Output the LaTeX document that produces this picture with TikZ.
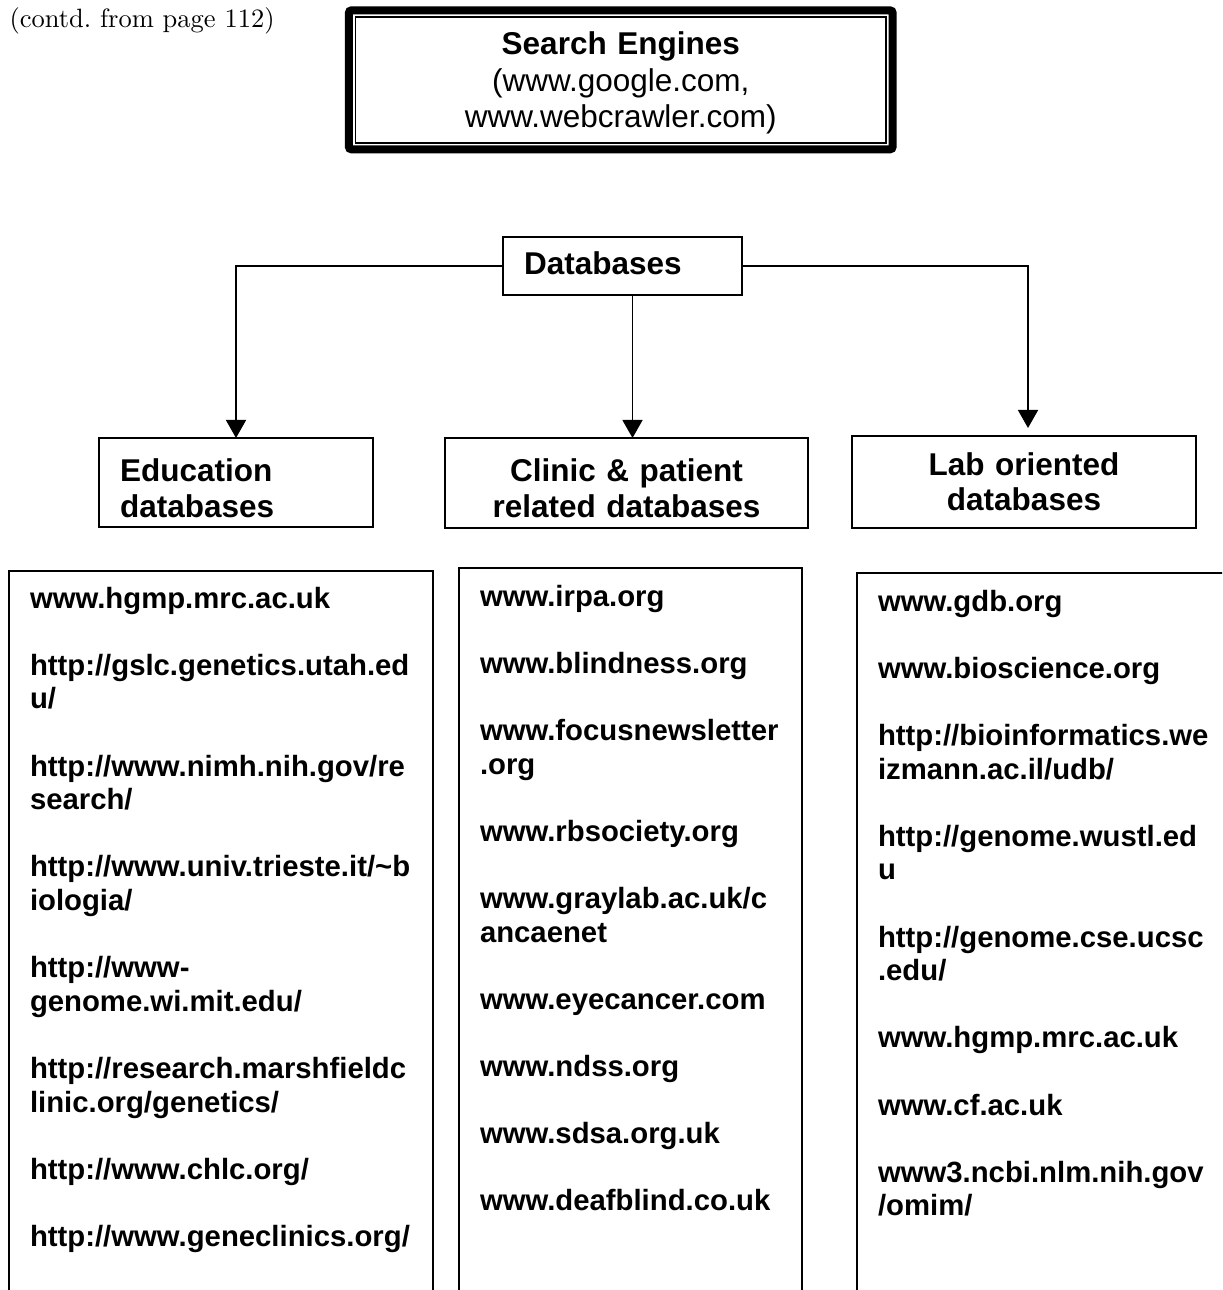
\documentclass[tikz,border=0pt]{standalone}
\usepackage{fontspec}
\newfontfamily\arialfont{Liberation Sans}
\usetikzlibrary{
    arrows.meta,
    positioning
}
\newlength{\px}
\setlength{\px}{0.4pt}
\newcommand{\urlgap}{\\[\baselineskip]}
\tikzset {
    box/.style = {draw, line width = 0.5pt, inner ysep = 0pt, outer sep = 0pt, anchor = base west},
    head/.style = {box, inner xsep = 21\px, font = {\arialfont\bfseries\fontsize{12.6}{14}\selectfont}},
    urls/.style = {
        box, inner xsep = 21\px, align = left,
        font = {\arialfont\bfseries\fontsize{11.72}{13.44}\selectfont\hyphenpenalty=10000\exhyphenpenalty=10000}
    },
    conn/.style = {line width = 0.6pt, -{Triangle[length = 7.2pt, width = 8pt]}}
}
\begin{document}
\begin{tikzpicture}[x = 1\px, y = -1\px]
    \useasboundingbox (0, 0) rectangle (1222, 1290);
    \clip (0, 0) rectangle (1222, 1290);
    \node (contd) [anchor = base west, inner sep = 0pt, font = \fontsize{10.6}{12}\selectfont] at (9, 28) {(contd.\ from page 112)};
    % search engines, framed twice
    \node (search) [box, line width = 0.7pt, inner xsep = 0pt, text width = 530.5\px, align = center,
        text height = 38\px, text depth = 87.7\px, font = {\arialfont\fontsize{12.6}{14.6}\selectfont}]
        at (355.5, 55) {\textbf{Search Engines}\\(www.google.com,\\www.webcrawler.com)};
    \draw [line width = 3.2pt, rounded corners = 1pt] ([shift = {(-6.6, -6.6)}]search.north west) rectangle ([shift = {(6.6, 6.6)}]search.south east);
    % databases and the three kinds
    \node (dbs) [head, text width = 197\px, align = left, text height = 38\px, text depth = 20\px] at (503, 275) {Databases};
    \node (edu) [head, text width = 232\px, align = left, text height = 44\px, text depth = 45\px] at (99, 482) {Education\\databases};
    \node (clinic) [head, text width = 321\px, align = center, text height = 44\px, text depth = 46\px] at (445, 482) {Clinic \& patient\\related databases};
    \node (lab) [head, text width = 302\px, align = center, text height = 39\px, text depth = 53\px] at (852, 475) {Lab oriented\\databases};
    \draw [conn] (dbs.west) -| (edu.north);
    \draw [conn] ([xshift = 10\px]dbs.south) -- ([xshift = 10\px]dbs.south |- clinic.north);
    \draw [conn, shorten > = 8\px] (dbs.east) -| ([xshift = 4\px]lab.north);
    % site lists
    \node (edulist) [urls, text width = 382\px, text height = 37\px, text depth = 750\px] at (9, 608) {
        www.hgmp.mrc.ac.uk\urlgap
        http://gslc.genetics.utah.ed\\u/\urlgap
        http://www.nimh.nih.gov/re\\search/\urlgap
        http://www.univ.trieste.it/\textasciitilde b\\iologia/\urlgap
        http://www-\\genome.wi.mit.edu/\urlgap
        http://research.marshfieldc\\linic.org/genetics/\urlgap
        http://www.chlc.org/\urlgap
        http://www.geneclinics.org/};
    \node (cliniclist) [urls, text width = 301\px, text height = 38\px, text depth = 750\px] at (459, 606) {
        www.irpa.org\urlgap
        www.blindness.org\urlgap
        www.focusnewsletter\\.org\urlgap
        www.rbsociety.org\urlgap
        www.graylab.ac.uk/c\\ancaenet\urlgap
        www.eyecancer.com\urlgap
        www.ndss.org\urlgap
        www.sdsa.org.uk\urlgap
        www.deafblind.co.uk};
    \node (lablist) [urls, text width = 358\px, text height = 38\px, text depth = 750\px] at (857, 611) {
        www.gdb.org\urlgap
        www.bioscience.org\urlgap
        http://bioinformatics.we\\izmann.ac.il/udb/\urlgap
        http://genome.wustl.ed\\u\urlgap
        http://genome.cse.ucsc\\.edu/\urlgap
        www.hgmp.mrc.ac.uk\urlgap
        www.cf.ac.uk\urlgap
        www3.ncbi.nlm.nih.gov\\/omim/};
\end{tikzpicture}
\end{document}
